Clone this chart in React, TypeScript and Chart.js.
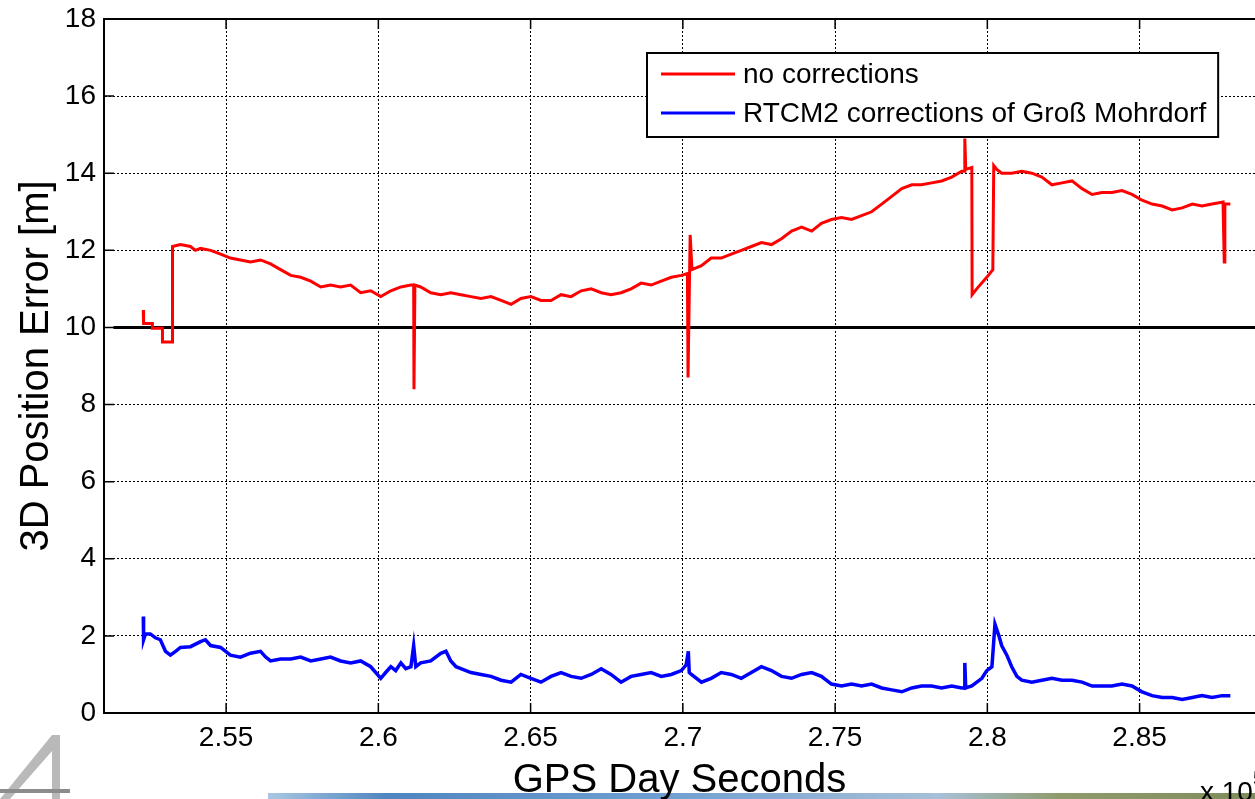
import { useEffect, useRef } from 'react';
import { Chart, registerables } from 'chart.js';

Chart.register(...registerables);

const FONT = '"Liberation Sans", Arial, Helvetica, sans-serif';

// ---------- data ----------
const SERIES_LABELS = ['no corrections', 'RTCM2 corrections of Groß Mohrdorf'];
const X_TITLE = 'GPS Day Seconds';
const Y_TITLE = '3D Position Error [m]';
const X_EXPONENT_BASE = 'x 10';
const X_EXPONENT = '5';

const X_MIN = 250990;
const X_MAX = 288790;
const Y_MIN = 0;
const Y_MAX = 18;

const X_TICKS = [255000, 260000, 265000, 270000, 275000, 280000, 285000];
const X_TICK_LABELS = ['2.55', '2.6', '2.65', '2.7', '2.75', '2.8', '2.85'];
const Y_TICKS = [0, 2, 4, 6, 8, 10, 12, 14, 16, 18];

// red: no corrections
const NO_CORR_X = [
  252280, 252290, 252580, 252580, 252780, 252780, 252910, 252910, 253240, 253240,
  253500, 253830, 253990, 254160, 254490, 254820, 255140, 255470, 255800, 256130,
  256460, 256790, 257120, 257450, 257780, 258110, 258430, 258760, 259090, 259420,
  259750, 260080, 260410, 260740, 261070, 261160, 261170, 261200, 261390, 261720,
  262050, 262380, 262710, 263040, 263370, 263700, 264030, 264360, 264680, 265010,
  265340, 265670, 266000, 266330, 266660, 266990, 267320, 267640, 267970, 268300,
  268630, 268960, 269290, 269620, 269950, 270150, 270170, 270240, 270300, 270610,
  270930, 271260, 271590, 271920, 272250, 272580, 272910, 273240, 273570, 273900,
  274230, 274550, 274880, 275210, 275540, 275870, 276200, 276530, 276860, 277190,
  277520, 277840, 278170, 278500, 278830, 279160, 279260, 279260, 279290, 279490,
  279500, 279650, 279980, 280180, 280210, 280310, 280470, 280800, 281130, 281460,
  281790, 282120, 282450, 282780, 283110, 283440, 283760, 284090, 284420, 284750,
  285080, 285410, 285740, 286070, 286400, 286730, 287050, 287380, 287740, 287780,
  287800, 287980,
];
const NO_CORR_Y = [
  10.45, 10.1, 10.1, 9.98, 9.98, 9.98, 9.98, 9.62, 9.62, 12.1,
  12.15, 12.1, 12.0, 12.05, 12.0, 11.9, 11.8, 11.75, 11.7, 11.75,
  11.65, 11.5, 11.35, 11.3, 11.2, 11.05, 11.1, 11.05, 11.1, 10.9,
  10.95, 10.8, 10.95, 11.05, 11.1, 11.1, 8.4, 11.1, 11.05, 10.9,
  10.85, 10.9, 10.85, 10.8, 10.75, 10.8, 10.7, 10.6, 10.75, 10.8,
  10.7, 10.7, 10.85, 10.8, 10.95, 11.0, 10.9, 10.85, 10.9, 11.0,
  11.15, 11.1, 11.2, 11.3, 11.35, 11.4, 8.7, 12.4, 11.5, 11.6,
  11.8, 11.8, 11.9, 12.0, 12.1, 12.2, 12.15, 12.3, 12.5, 12.6,
  12.5, 12.7, 12.8, 12.85, 12.8, 12.9, 13.0, 13.2, 13.4, 13.6,
  13.7, 13.7, 13.75, 13.8, 13.9, 14.05, 14.05, 14.9, 14.1, 14.15,
  10.85, 11.0, 11.3, 11.5, 14.2, 14.1, 14.0, 14.0, 14.05, 14.0,
  13.9, 13.7, 13.75, 13.8, 13.6, 13.45, 13.5, 13.5, 13.55, 13.45,
  13.3, 13.2, 13.15, 13.05, 13.1, 13.2, 13.15, 13.2, 13.25, 11.7,
  13.2, 13.2,
];

// blue: RTCM2 corrections
const RTCM_X = [
  252280, 252290, 252350, 252510, 252680, 252840, 253010, 253170, 253340, 253500,
  253830, 254160, 254320, 254490, 254820, 255140, 255470, 255800, 256130, 256300,
  256460, 256790, 257120, 257450, 257780, 258110, 258430, 258760, 259090, 259420,
  259750, 260080, 260240, 260410, 260570, 260740, 260900, 261070, 261160, 261230,
  261390, 261720, 262050, 262220, 262380, 262550, 262710, 263040, 263370, 263700,
  264030, 264360, 264680, 265010, 265340, 265670, 266000, 266330, 266660, 266990,
  267320, 267640, 267970, 268300, 268630, 268960, 269290, 269620, 269950, 270110,
  270180, 270210, 270280, 270610, 270930, 271260, 271590, 271920, 272250, 272580,
  272910, 273240, 273570, 273900, 274230, 274550, 274880, 275210, 275540, 275870,
  276200, 276530, 276860, 277190, 277520, 277840, 278170, 278500, 278830, 279160,
  279260, 279260, 279290, 279490, 279820, 279980, 280150, 280250, 280380, 280470,
  280640, 280800, 280970, 281130, 281460, 281790, 282120, 282450, 282780, 283110,
  283440, 283760, 284090, 284420, 284750, 285080, 285410, 285740, 286070, 286400,
  286730, 287050, 287380, 287710, 287980,
];
const RTCM_Y = [
  2.5, 1.9, 2.05, 2.05, 1.95, 1.9, 1.6, 1.5, 1.6, 1.7,
  1.72, 1.85, 1.9, 1.75, 1.7, 1.5, 1.45, 1.55, 1.6, 1.45,
  1.35, 1.4, 1.4, 1.45, 1.35, 1.4, 1.45, 1.35, 1.3, 1.35,
  1.2, 0.9, 1.05, 1.2, 1.1, 1.3, 1.15, 1.2, 1.75, 1.2,
  1.3, 1.35, 1.55, 1.6, 1.35, 1.2, 1.15, 1.05, 1.0, 0.95,
  0.85, 0.8, 1.0, 0.9, 0.8, 0.95, 1.05, 0.95, 0.9, 1.0,
  1.15, 1.0, 0.8, 0.95, 1.0, 1.05, 0.95, 1.0, 1.1, 1.25,
  1.6, 1.05, 1.0, 0.8, 0.9, 1.05, 1.0, 0.9, 1.05, 1.2,
  1.1, 0.95, 0.9, 1.0, 1.05, 0.95, 0.75, 0.7, 0.75, 0.7,
  0.75, 0.65, 0.6, 0.55, 0.65, 0.7, 0.7, 0.65, 0.7, 0.65,
  0.65, 1.3, 0.65, 0.7, 0.9, 1.1, 1.2, 2.3, 2.0, 1.75,
  1.5, 1.2, 0.95, 0.85, 0.8, 0.85, 0.9, 0.85, 0.85, 0.8,
  0.7, 0.7, 0.7, 0.75, 0.7, 0.55, 0.45, 0.4, 0.4, 0.35,
  0.4, 0.45, 0.4, 0.45, 0.45,
];

// black 10 m reference line
const REF_X = [251300, 288790];
const REF_Y = [10, 10];

const toPoints = (xs: number[], ys: number[]) => xs.map((x, i) => ({ x, y: ys[i] }));

// ---------- plugins ----------
const framePlugin = {
  id: 'matlabFrame',
  afterDraw(chart: any) {
    const { ctx, chartArea, scales } = chart;
    const { left, right, top, bottom } = chartArea;
    ctx.save();
    // top frame line
    ctx.strokeStyle = '#000';
    ctx.lineWidth = 2;
    ctx.beginPath();
    ctx.moveTo(left, top);
    ctx.lineTo(right, top);
    ctx.stroke();
    // inward tick marks
    ctx.lineWidth = 1.5;
    ctx.beginPath();
    X_TICKS.forEach((v) => {
      const x = scales.x.getPixelForValue(v);
      ctx.moveTo(x, bottom);
      ctx.lineTo(x, bottom - 10);
      ctx.moveTo(x, top);
      ctx.lineTo(x, top + 10);
    });
    Y_TICKS.forEach((v) => {
      const y = scales.y.getPixelForValue(v);
      ctx.moveTo(left, y);
      ctx.lineTo(left + 10, y);
    });
    ctx.stroke();

    // legend box
    const ds = chart.data.datasets.filter((d: any) => d.label);
    ctx.font = `28px ${FONT}`;
    const textW = Math.max(...ds.map((d: any) => ctx.measureText(d.label).width));
    const boxL = 647;
    const boxT = 53;
    const lineL = 661;
    const lineR = 735;
    const textL = 743;
    const boxR = textL + textW + 12;
    const boxB = 137;
    ctx.fillStyle = '#fff';
    ctx.fillRect(boxL, boxT, boxR - boxL, boxB - boxT);
    ctx.strokeStyle = '#000';
    ctx.lineWidth = 2;
    ctx.strokeRect(boxL, boxT, boxR - boxL, boxB - boxT);
    const rows = [74, 113];
    ds.forEach((d: any, i: number) => {
      const y = rows[i];
      ctx.strokeStyle = d.borderColor;
      ctx.lineWidth = 3;
      ctx.beginPath();
      ctx.moveTo(lineL, y);
      ctx.lineTo(lineR, y);
      ctx.stroke();
      ctx.fillStyle = '#000';
      ctx.textBaseline = 'middle';
      ctx.textAlign = 'left';
      ctx.fillText(d.label, textL, y + 1);
    });

    // exponent label (cut at the image edge)
    ctx.fillStyle = '#000';
    ctx.textBaseline = 'alphabetic';
    ctx.font = `28px ${FONT}`;
    ctx.fillText(X_EXPONENT_BASE, 1200, 801);
    const w = ctx.measureText(X_EXPONENT_BASE).width;
    ctx.font = `20px ${FONT}`;
    ctx.fillText(X_EXPONENT, 1200 + w, 785);
    ctx.restore();
  },
};

export default function App() {
  const canvasRef = useRef<HTMLCanvasElement | null>(null);

  useEffect(() => {
    if (!canvasRef.current) return;
    const chart = new Chart(canvasRef.current, {
      type: 'line',
      data: {
        datasets: [
          {
            label: SERIES_LABELS[0],
            data: toPoints(NO_CORR_X, NO_CORR_Y),
            borderColor: '#ff0000',
            borderWidth: 3,
            pointRadius: 0,
            tension: 0,
            fill: false,
            order: 2,
          },
          {
            label: SERIES_LABELS[1],
            data: toPoints(RTCM_X, RTCM_Y),
            borderColor: '#0000ff',
            borderWidth: 3.5,
            pointRadius: 0,
            tension: 0,
            fill: false,
            order: 1,
          },
          {
            label: '',
            data: toPoints(REF_X, REF_Y),
            borderColor: '#000000',
            borderWidth: 3,
            pointRadius: 0,
            tension: 0,
            fill: false,
            order: 3,
          },
        ],
      },
      options: {
        animation: false,
        responsive: false,
        maintainAspectRatio: false,
        layout: { padding: { top: 19, right: 0, left: 0, bottom: 0 } },
        plugins: {
          legend: { display: false },
          tooltip: { enabled: false },
        },
        scales: {
          x: {
            type: 'linear',
            min: X_MIN,
            max: X_MAX,
            afterBuildTicks: (scale: any) => {
              scale.ticks = X_TICKS.map((value) => ({ value }));
            },
            afterFit: (scale: any) => {
              scale.height = 86;
            },
            ticks: {
              color: '#000',
              padding: 8,
              maxRotation: 0,
              autoSkip: false,
              font: { family: FONT, size: 28 },
              callback: (v: any) => {
                const i = X_TICKS.indexOf(Number(v));
                return i >= 0 ? X_TICK_LABELS[i] : '';
              },
            },
            grid: { color: '#000', lineWidth: 1, drawTicks: false },
            border: { display: true, color: '#000', width: 2, dash: [2, 2] },
            title: {
              display: true,
              text: X_TITLE,
              color: '#000',
              font: { family: FONT, size: 40, lineHeight: 0.9 },
              padding: { top: 0, bottom: 0 },
            },
          },
          y: {
            type: 'linear',
            min: Y_MIN,
            max: Y_MAX,
            afterBuildTicks: (scale: any) => {
              scale.ticks = Y_TICKS.map((value) => ({ value }));
            },
            afterFit: (scale: any) => {
              scale.width = 104;
            },
            ticks: {
              color: '#000',
              padding: 8,
              autoSkip: false,
              font: { family: FONT, size: 28, lineHeight: 0.5 },
              callback: (v: any) => String(v),
            },
            grid: { color: '#000', lineWidth: 1, drawTicks: false },
            border: { display: true, color: '#000', width: 2, dash: [2, 2] },
            title: {
              display: true,
              text: Y_TITLE,
              color: '#000',
              font: { family: FONT, size: 40, lineHeight: 1 },
              padding: { top: 17, bottom: 0 },
            },
          },
        },
      },
      plugins: [framePlugin],
    } as any);
    return () => chart.destroy();
  }, []);

  return (
    <div
      style={{
        position: 'absolute',
        left: 0,
        top: 0,
        width: 1255,
        height: 799,
        overflow: 'hidden',
        background: '#fff',
      }}
    >
      <svg
        width={80}
        height={70}
        style={{ position: 'absolute', left: 0, top: 729 }}
      >
        <polygon points="0,70 52,6 60,6 60,70 52,70 52,22 10,70" fill="#b9b9b9" />
        <rect x={0} y={60} width={70} height={4} fill="#8c8c8c" />
      </svg>
      <div
        style={{
          position: 'absolute',
          left: 268,
          top: 793,
          width: 987,
          height: 6,
          background:
            'linear-gradient(90deg, #a9c7e2 0%, #4f86c0 12%, #6f9fd0 40%, #a8c0d8 68%, #8e9c6c 80%, #7f8c5c 100%)',
        }}
      />
      <canvas
        ref={canvasRef}
        width={1255}
        height={799}
        style={{ position: 'absolute', left: 0, top: 0, width: 1255, height: 799 }}
      />
    </div>
  );
}
